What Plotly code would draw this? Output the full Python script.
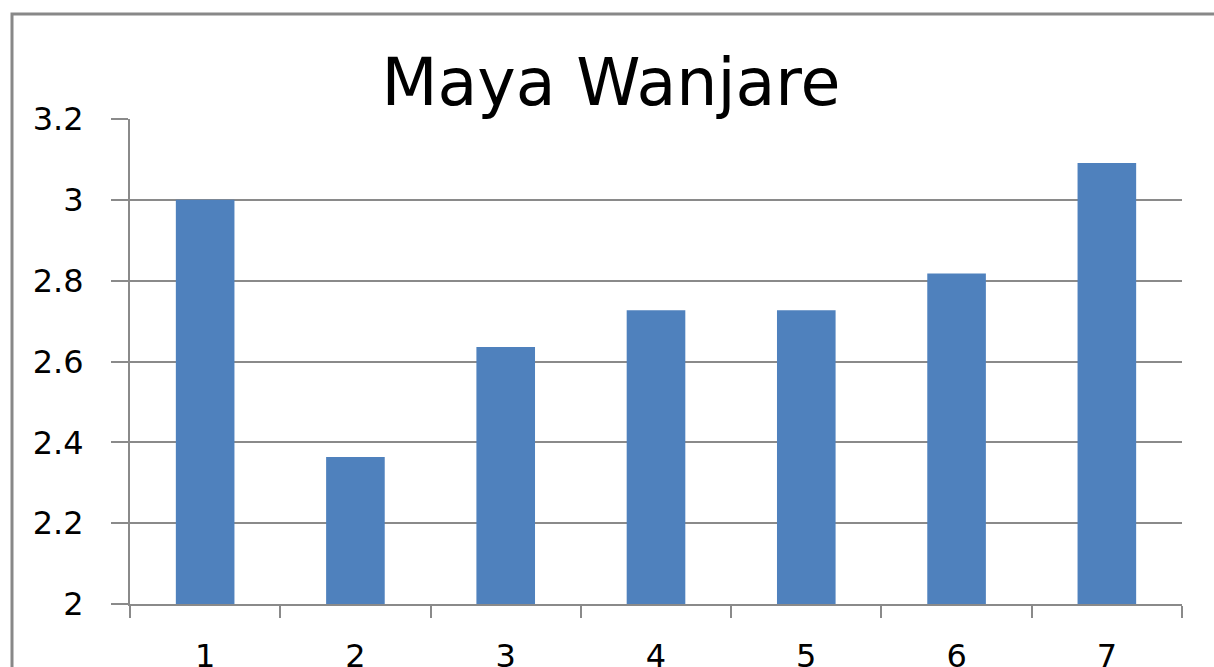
import plotly.graph_objects as go

categories = ["1", "2", "3", "4", "5", "6", "7"]
values = [3.0, 2.364, 2.636, 2.727, 2.727, 2.818, 3.091]
y_ticks = [2, 2.2, 2.4, 2.6, 2.8, 3, 3.2]
y_tick_labels = ["2", "2.2", "2.4", "2.6", "2.8", "3", "3.2"]

W, H = 1214, 667
L, R, T, B = 130, 32, 119, 63
FONT = "DejaVu Sans"

fig = go.Figure(go.Bar(
    x=categories, y=values, width=0.39,
    marker=dict(color="#4F81BD", line=dict(width=0)),
))

grey = "#8a8a8a"
fig.update_layout(
    width=W, height=H,
    margin=dict(l=L, r=R, t=T, b=B, autoexpand=False),
    paper_bgcolor="white", plot_bgcolor="white",
    font=dict(family=FONT, color="#000000", size=32),
    showlegend=False,
    title=dict(text="Maya Wanjare", font=dict(size=65, family=FONT, color="#000"),
               x=611 / W, xanchor="center", xref="container",
               y=1 - 82 / H, yanchor="middle", yref="container"),
    xaxis=dict(type="category", tickson="boundaries", ticks="outside", ticklen=12,
               tickwidth=2, tickcolor=grey, showgrid=False, showline=True,
               linecolor=grey, linewidth=2, tickfont=dict(size=32, family=FONT),
               ticklabelstandoff=23, automargin=False),
    yaxis=dict(range=[2, 3.2], tickvals=y_ticks, ticktext=y_tick_labels,
               ticks="outside", ticklen=17, tickwidth=2, tickcolor=grey,
               showgrid=True, gridcolor=grey, gridwidth=2, showline=True,
               linecolor=grey, linewidth=2, tickfont=dict(size=32, family=FONT),
               ticklabelstandoff=21, zeroline=False, automargin=False),
    shapes=[dict(type="rect", xref="paper", yref="paper",
                 x0=(12 - L) / (W - L - R), x1=1.2, y0=-0.5,
                 y1=(H - B - 14) / (H - T - B),
                 line=dict(color="#888888", width=3), fillcolor="rgba(0,0,0,0)", layer="below")],
)

fig.write_html("out.html", config={"displayModeBar": False},
               post_script="document.body.style.margin='0';document.body.style.overflow='hidden';")
